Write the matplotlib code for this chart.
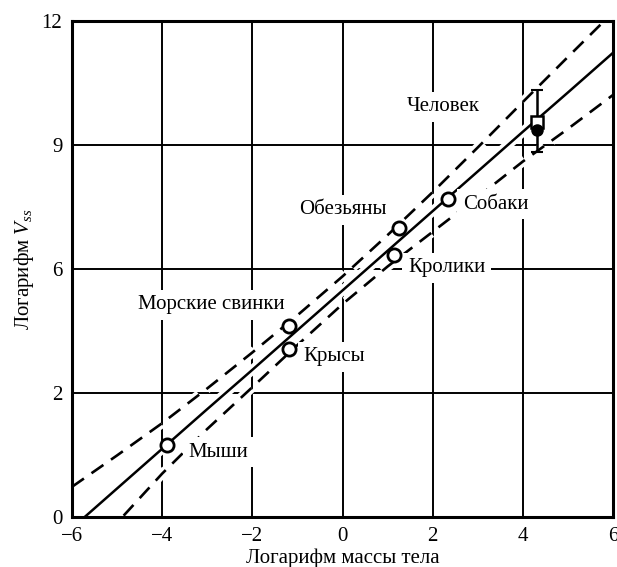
import matplotlib
matplotlib.use("Agg")
import matplotlib.pyplot as plt
import matplotlib.patheffects as pe

plt.rcParams["font.family"] = ["Liberation Serif", "DejaVu Serif"]
plt.rcParams["mathtext.fontset"] = "custom"
plt.rcParams["mathtext.rm"] = "Liberation Serif"
plt.rcParams["mathtext.it"] = "Liberation Serif:italic"

# species points (log body mass, log Vss)
species = ["Мыши", "Морские свинки", "Крысы", "Кролики", "Обезьяны", "Собаки"]
mass_x = [-3.89, -1.19, -1.19, 1.14, 1.25, 2.34]
vss_y = [1.74, 4.62, 4.06, 6.34, 6.99, 7.69]

# human: predicted (open square), observed (filled circle), range
human_x = 4.31
human_pred = 9.56
human_obs = 9.36
human_lo, human_hi = 8.83, 10.33

band_x = [-6, -5, -4, -3, -2, -1, 0, 1, 2, 3, 4, 5, 6]
fit_y = [-0.27, 0.69, 1.65, 2.61, 3.56, 4.52, 5.48, 6.44, 7.40, 8.36, 9.32, 10.27, 11.23]
upper_y = [0.73, 1.49, 2.27, 3.11, 3.98, 4.88, 5.82, 6.82, 7.86, 8.94, 10.04, 11.13, 12.21]
lower_y = [-1.32, -0.14, 1.05, 2.13, 3.14, 4.16, 5.15, 6.06, 6.90, 7.74, 8.60, 9.39, 10.21]

# label anchors
label_text = ["Человек", "Собаки", "Обезьяны", "Кролики", "Морские свинки", "Крысы", "Мыши"]
label_x = [2.23, 2.67, 0.01, 1.45, -2.92, -0.86, -3.41]
label_y = [9.92, 7.57, 7.43, 6.03, 5.13, 3.87, 1.57]
label_ha = ["center", "left", "center", "left", "center", "left", "left"]

fig = plt.figure(figsize=(6.17, 5.67), dpi=100)
ax = fig.add_axes([0.1167, 0.0882, 0.877, 0.875])

ax.set_xlim(-6, 6)
ax.set_ylim(0, 12)
ax.set_xticks(range(-6, 7, 2))
ax.set_xticklabels(["\u22126", "\u22124", "\u22122", "0", "2", "4", "6"])
ax.set_yticks([0, 3, 6, 9, 12])
ax.set_yticklabels(["0", "2", "6", "9", "12"])
ax.tick_params(length=0, labelsize=15, pad=7)
ax.grid(True, color="black", lw=1.4, zorder=0)
ax.set_axisbelow(True)
for s in ax.spines.values():
    s.set_linewidth(2.2)

halo = [pe.Stroke(linewidth=7, foreground="white"), pe.Normal()]
ax.plot(band_x, fit_y, color="black", lw=1.8, zorder=2, path_effects=halo)
for yy in (upper_y, lower_y):
    ax.plot(band_x, yy, color="black", lw=1.9, ls=(0, (5.5, 3.5)), zorder=2,
            path_effects=halo)

for t, x, y, ha in zip(label_text, label_x, label_y, label_ha):
    ax.text(x, y, t, ha=ha, va="center", fontsize=15, zorder=3,
            bbox=dict(facecolor="white", edgecolor="none", pad=4))

ax.plot(mass_x, vss_y, "o", ms=9.5, mfc="white", mec="black", mew=2, zorder=4)

ax.errorbar([human_x], [human_obs], yerr=[[human_obs - human_lo], [human_hi - human_obs]],
            fmt="none", ecolor="black", elinewidth=1.8, capsize=4, capthick=1.5, zorder=4)
ax.plot([human_x], [human_pred], "s", ms=8, mfc="white", mec="black", mew=1.8, zorder=5)
ax.plot([human_x], [human_obs], "o", ms=8, color="black", zorder=5)

ax.set_xlabel("Логарифм массы тела", fontsize=15, labelpad=2)
ax.set_ylabel(r"Логарифм $\mathit{V}_{ss}$", fontsize=15, labelpad=4)

fig.savefig("out.png", dpi=100)
